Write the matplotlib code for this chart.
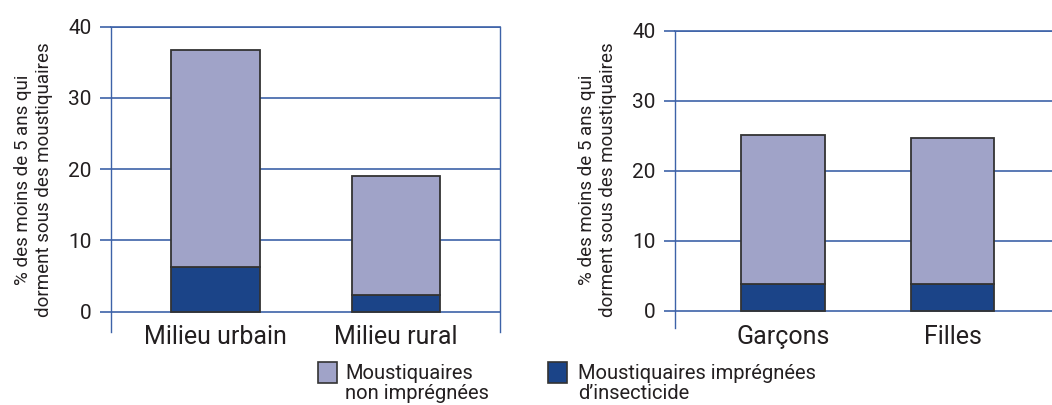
import matplotlib.pyplot as plt
from matplotlib.patches import Rectangle

plt.rcParams['font.family'] = ['Roboto', 'DejaVu Sans']

# data
cats_milieu = ['Milieu urbain', 'Milieu rural']
impregnees_milieu = [6.3, 2.4]
non_impregnees_milieu = [30.4, 16.7]   # stacked on top

cats_sexe = ['Garçons', 'Filles']
impregnees_sexe = [3.9, 3.9]
non_impregnees_sexe = [21.2, 20.8]

yticks = [0, 10, 20, 30, 40]
ylabel = '% des moins de 5 ans qui\ndorment sous des moustiquaires'
legend_labels = ['Moustiquaires\nnon imprégnées', 'Moustiquaires imprégnées\nd\u2019insecticide']

light = '#a0a3c8'
dark = '#1b4488'
edge = '#333333'
blue = '#3d62a8'
txt = '#231f20'

W, H = 1052, 405
fig = plt.figure(figsize=(W / 100, H / 100), dpi=100)


def px(x0, y0, x1, y1):
    # pixel box (top-left origin) -> figure fraction [l, b, w, h]
    return [x0 / W, 1 - y1 / H, (x1 - x0) / W, (y1 - y0) / H]


def draw_panel(rect, cats, low, high, xlim, ylim, label_off, show_right):
    ax = fig.add_axes(rect)
    x = range(len(cats))
    ax.bar(x, low, width=0.49, color=dark, edgecolor=edge, linewidth=1.3, zorder=3)
    ax.bar(x, high, bottom=low, width=0.49, color=light, edgecolor=edge, linewidth=1.3, zorder=3)
    ax.set_xlim(*xlim)
    ax.set_ylim(*ylim)
    ax.set_yticks(yticks)
    ax.yaxis.grid(True, color=blue, linewidth=1.2)
    ax.set_axisbelow(True)
    ax.tick_params(axis='y', direction='out', length=8, width=1.2, color=blue,
                   labelsize=15, labelcolor=txt, pad=6)
    ax.set_xticks([])
    ax.spines['bottom'].set_visible(False)
    ax.spines['top'].set_color(blue)
    ax.spines['top'].set_linewidth(1.2)
    ax.spines['left'].set_color(blue)
    ax.spines['left'].set_linewidth(1.0)
    ax.spines['right'].set_color(blue)
    ax.spines['right'].set_linewidth(1.0)
    ax.spines['right'].set_visible(show_right)
    for i, c in enumerate(cats):
        ax.annotate(c, xy=(i, 0), xytext=(0, -label_off), textcoords='offset pixels',
                    ha='center', va='baseline', fontsize=18, color=txt)
    ax.set_ylabel(ylabel, fontsize=13.5, color=txt, labelpad=11, linespacing=1.2)
    return ax


draw_panel(px(110.7, 26.7, 500, 332), cats_milieu, impregnees_milieu, non_impregnees_milieu,
           (-0.58, 1.575), (-2.85, 40), 32, True)
draw_panel(px(675, 30.7, 1052, 328), cats_sexe, impregnees_sexe, non_impregnees_sexe,
           (-0.636, 1.585), (-2.43, 40), 33, False)

# legend drawn by hand below the panels
for (bx, tx), col, lab in zip([(318, 345), (548, 578)], [light, dark], legend_labels):
    l, b, w, h = px(bx, 362, bx + 19, 383)
    fig.add_artist(Rectangle((l, b), w, h, transform=fig.transFigure,
                             facecolor=col, edgecolor=edge, linewidth=1.2))
    fig.text(tx / W, 1 - 364 / H, lab, ha='left', va='top', fontsize=14.5,
             color=txt, linespacing=1.05)

fig.savefig('out.png', dpi=100)
